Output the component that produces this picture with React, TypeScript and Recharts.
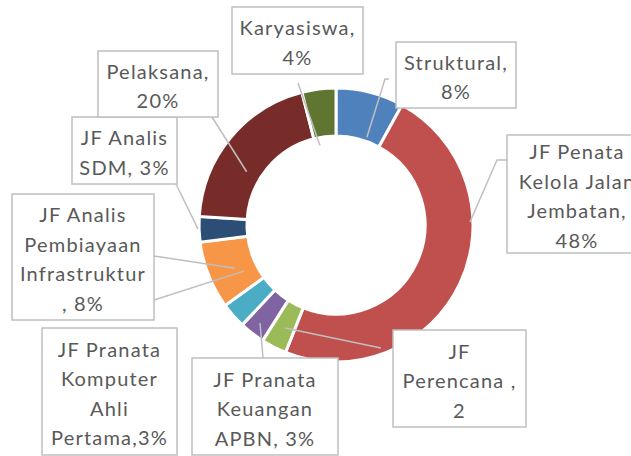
import React from "react";
import { PieChart, Pie, Cell } from "recharts";

// categories clockwise from 12 o'clock
const categories = [
  "Struktural",
  "JF Penata Kelola Jalan Jembatan",
  "JF Perencana",
  "JF Pranata Keuangan APBN",
  "JF Pranata Komputer Ahli Pertama",
  "JF Analis Pembiayaan Infrastruktur",
  "JF Analis SDM",
  "Pelaksana",
  "Karyasiswa",
];
const shares = [8, 48, 3, 3, 3, 8, 3, 20, 4];
const labelTexts = [
  ["Struktural,", "8%"],
  ["JF Penata", "Kelola Jalan", "Jembatan,", "48%"],
  ["JF", "Perencana ,", "2"],
  ["JF Pranata", "Keuangan", "APBN, 3%"],
  ["JF Pranata", "Komputer", "Ahli", "Pertama,3%"],
  ["JF Analis", "Pembiayaan", "Infrastruktur", ", 8%"],
  ["JF Analis", "SDM, 3%"],
  ["Pelaksana,", "20%"],
  ["Karyasiswa,", "4%"],
];
const colors = [
  "#4F81BD",
  "#C0504D",
  "#9BBB59",
  "#8064A2",
  "#4BACC6",
  "#F79646",
  "#2C4D75",
  "#772C2A",
  "#5F7530",
];

const data = categories.map((name, i) => ({ name, value: shares[i] }));

// label box placement (layout only): box, leader start points, leader tip in polar coords (deg clockwise from top)
type LabelLayout = {
  x: number;
  y: number;
  w: number;
  h: number;
  from: [number, number][];
  tipAngle: number;
  tipR: number;
};
const labelLayout: LabelLayout[] = [
  { x: 396, y: 42, w: 120, h: 66, from: [[389, 79], [385, 79]], tipAngle: 19.4, tipR: 93 },
  { x: 507, y: 135, w: 140, h: 118, from: [[507, 160], [497, 160]], tipAngle: 88.7, tipR: 134 },
  { x: 393, y: 330, w: 133, h: 97, from: [[381, 348]], tipAngle: 206.3, tipR: 115 },
  { x: 192, y: 358, w: 146, h: 97, from: [[263, 358]], tipAngle: 217.8, tipR: 124 },
  { x: 42, y: 328, w: 135, h: 127, from: [[154, 300]], tipAngle: 243.4, tipR: 103 },
  { x: 12, y: 194, w: 142, h: 126, from: [[154, 256]], tipAngle: 246.9, tipR: 110 },
  { x: 72, y: 117, w: 105, h: 67, from: [[176, 184]], tipAngle: 268.3, tipR: 138 },
  { x: 98, y: 51, w: 120, h: 66, from: [[212, 117]], tipAngle: 300.8, tipR: 104 },
  { x: 232, y: 7, w: 131, h: 67, from: [[298, 83]], tipAngle: 348.6, tipR: 81 },
];

const CX = 331;
const CY = 220;
const LINE_H = 29.5;
const GRAY = "#BFBFBF";
const TEXT = "#595959";

const renderLabel = (props: any) => {
  const i = props.index as number;
  const lay = labelLayout[i];
  const cx = Number(props.cx ?? CX);
  const cy = Number(props.cy ?? CY);
  const a = (lay.tipAngle * Math.PI) / 180;
  const tip = [cx + lay.tipR * Math.sin(a), cy - lay.tipR * Math.cos(a)];
  const pts = [...lay.from, tip].map((p) => p.join(",")).join(" ");
  const lines = labelTexts[i];
  const midY = lay.y + lay.h / 2 + 1.5;
  const firstY = midY - ((lines.length - 1) * LINE_H) / 2;
  return (
    <g key={`lbl-${i}`}>
      <polyline points={pts} fill="none" stroke={GRAY} strokeWidth={1.5} />
      <rect
        x={lay.x}
        y={lay.y}
        width={lay.w}
        height={lay.h}
        fill="#fff"
        stroke={GRAY}
        strokeWidth={1.5}
      />
      {lines.map((t, k) => (
        <text
          key={k}
          x={lay.x + lay.w / 2}
          y={firstY + k * LINE_H}
          textAnchor="middle"
          dominantBaseline="central"
          fill={TEXT}
          fontSize={20}
          fontFamily="Lato, 'Open Sans', sans-serif"
          letterSpacing={1.2}
        >
          {t}
        </text>
      ))}
    </g>
  );
};

export default function App() {
  return (
    <div style={{ position: "absolute", left: 0, top: 0, background: "#fff" }}>
      <PieChart width={631} height={456}>
        <Pie
          data={data}
          dataKey="value"
          nameKey="name"
          cx={CX}
          cy={CY}
          innerRadius={89}
          outerRadius={137}
          startAngle={90}
          endAngle={-270}
          stroke="#fff"
          strokeWidth={3}
          label={renderLabel}
          labelLine={false}
          isAnimationActive={false}
        >
          {data.map((d, i) => (
            <Cell key={d.name} fill={colors[i]} />
          ))}
        </Pie>
      </PieChart>
    </div>
  );
}
